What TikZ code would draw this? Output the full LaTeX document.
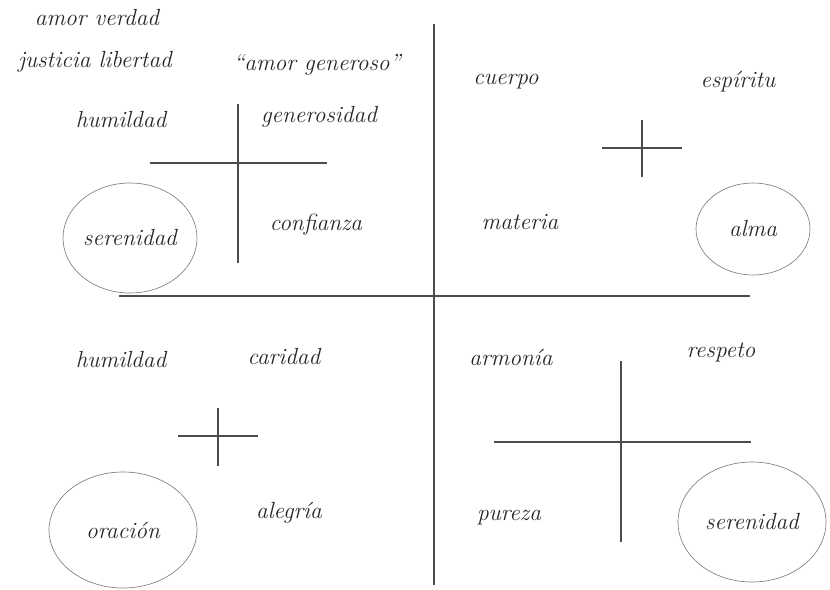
\documentclass[tikz,border=0pt]{standalone}
\usetikzlibrary{shapes.geometric}
\tikzset{
  word/.style={font=\fontsize{17.5}{20}\selectfont\itshape, text=black!85, inner sep=0pt},
  rule/.style={draw=black!70, line width=1.1pt},
  ring/.style={word, draw=black!50, line width=0.5pt, ellipse, inner sep=0pt}
}
\begin{document}
\begin{tikzpicture}[x=0.75pt, y=-0.75pt]
\useasboundingbox (0,0) rectangle (830,589);
% main axes
\draw[rule] (434,24) -- (434,585);
\draw[rule] (119,296) -- (750,296);
% crosses
\draw[rule] (238,104) -- (238,263);
\draw[rule] (150,163) -- (327,163);
\draw[rule] (642,120) -- (642,177);
\draw[rule] (602,148) -- (682,148);
\draw[rule] (218,408) -- (218,466);
\draw[rule] (178,436) -- (258,436);
\draw[rule] (621,361) -- (621,542);
\draw[rule] (494,442) -- (751,442);
% top left
\node[word] (amorverdad) at (97,18) {amor verdad};
\node[word] (justicia) at (95,62) {justicia libertad};
\node[word] (amorgen) at (317,65) {``amor generoso''};
\node[word] (humildadA) at (121,120) {humildad};
\node[word] (generosidad) at (319,117) {generosidad};
\node[word] (confianza) at (316,225) {confianza};
\node[ring, minimum width=100.5pt, minimum height=82.5pt] (serenidadA) at (130,238) {serenidad};
% top right
\node[word] (cuerpo) at (506,82) {cuerpo};
\node[word] (espiritu) at (738,82) {espíritu};
\node[word] (materia) at (520,222) {materia};
\node[ring, minimum width=85.5pt, minimum height=69pt] (alma) at (753,229) {alma};
% bottom left
\node[word] (humildadB) at (121,360) {humildad};
\node[word] (caridad) at (284,357) {caridad};
\node[word] (alegria) at (289,513) {alegría};
\node[ring, minimum width=111pt, minimum height=87pt] (oracion) at (123,530) {oración};
% bottom right
\node[word] (armonia) at (511,357) {armonía};
\node[word] (respeto) at (721,352) {respeto};
\node[word] (pureza) at (509,518) {pureza};
\node[ring, minimum width=111pt, minimum height=90pt] (serenidadB) at (752,522) {serenidad};
\end{tikzpicture}
\end{document}
